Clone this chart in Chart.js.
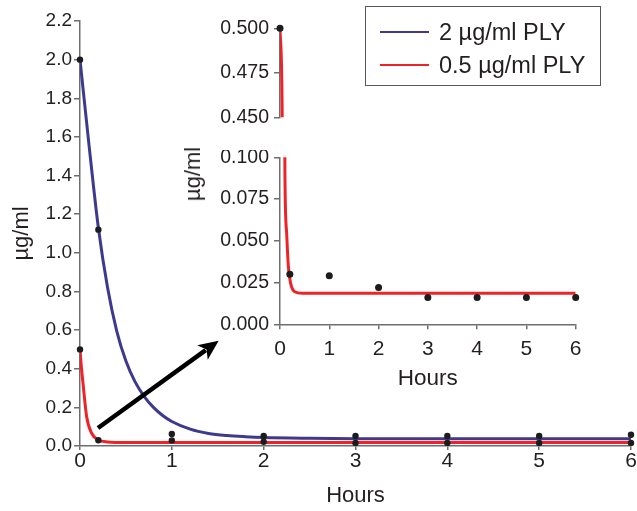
<!DOCTYPE html>
<html><head><meta charset="utf-8">
<script src="https://cdn.jsdelivr.net/npm/chart.js@4/dist/chart.umd.min.js"></script>
<style>
html,body{margin:0;padding:0;background:#fff;}
#wrap{position:relative;width:637px;height:511px;overflow:hidden;font-family:"Liberation Sans",Arial,sans-serif;color:#231f20;}
canvas{position:absolute;}
#insetTitle{position:absolute;left:193px;top:174px;transform:translate(-50%,-50%) rotate(-90deg);font-size:22px;white-space:nowrap;line-height:1;}
#legend{position:absolute;left:365px;top:6px;width:236px;height:80px;border:1px solid #58595b;box-sizing:border-box;}
.lrow{position:absolute;left:0;height:30px;display:flex;align-items:center;font-size:23.5px;white-space:nowrap;}
.lline{width:49px;height:2px;margin-left:14px;margin-right:10px;}
</style></head><body>
<div id="wrap">
<canvas id="main" width="637" height="511" style="left:0;top:0;width:637px;height:511px"></canvas>
<canvas id="insetTop" width="450" height="140" style="left:150px;top:0;width:450px;height:140px"></canvas>
<canvas id="insetBot" width="450" height="250" style="left:150px;top:150px;width:450px;height:250px"></canvas>
<div id="insetTitle">µg/ml</div>
<div id="legend">
  <div class="lrow" style="top:10px"><div class="lline" id="sw1"></div><span id="lt1"></span></div>
  <div class="lrow" style="top:43px"><div class="lline" id="sw2"></div><span id="lt2"></span></div>
</div>
</div>
<script>
// ---- data ----
const seriesNames = ['2 µg/ml PLY', '0.5 µg/ml PLY'];
const hourTicks = [0, 1, 2, 3, 4, 5, 6];
const mainYTicks = [0, 0.2, 0.4, 0.6, 0.8, 1.0, 1.2, 1.4, 1.6, 1.8, 2.0, 2.2];
const insetUpperTicks = [0.45, 0.475, 0.5];
const insetLowerTicks = [0, 0.025, 0.05, 0.075, 0.1];

const highTimes = [0, 0.2, 1, 2, 3, 4, 5, 6];
const highMeasured = [2.0, 1.12, 0.062, 0.052, 0.052, 0.052, 0.052, 0.058];
const lowTimes = [0, 0.2, 1, 2, 3, 4, 5, 6];
const lowMeasured = [0.5, 0.03, 0.029, 0.022, 0.016, 0.016, 0.016, 0.016];

const highFitTimes = [0, 0.1, 0.2, 0.3, 0.4, 0.5, 0.6, 0.7, 0.8, 0.9, 1.0, 1.2, 1.4, 1.6, 1.8, 2, 2.5, 3, 4, 5, 6];
const highFitValues = [2.0, 1.55, 1.13, 0.82, 0.595, 0.44, 0.332, 0.256, 0.2, 0.158, 0.127, 0.087, 0.065, 0.054, 0.048, 0.044, 0.040, 0.038, 0.037, 0.037, 0.037];
const lowFitTimes = [0, 0.011, 0.036, 0.073, 0.127, 0.2, 0.3, 0.5, 1, 2, 3, 4, 5, 6];
const lowFitValues = [0.5, 0.43, 0.31, 0.15, 0.066, 0.031, 0.021, 0.018, 0.018, 0.018, 0.018, 0.018, 0.018, 0.018];

const insetFitTimes = [0, 0.045, 0.1, 0.135, 0.17, 0.216, 0.3, 0.45, 1, 2, 3, 4, 5, 6];
const insetFitValues = [0.5, 0.45, 0.09, 0.0545, 0.0345, 0.0245, 0.0195, 0.0186, 0.0186, 0.0186, 0.0186, 0.0186, 0.0186, 0.0186];

const arrowStart = [0.196, 0.093];
const arrowEnd = [1.51, 0.545];

// ---- styles ----
const BLUE = '#3d3a8e', RED = '#ee2328', DOT = '#1c1c1c', AXIS = '#6d6e71', TXT = '#231f20';
const FONT = "'Liberation Sans', Arial, sans-serif";
Chart.defaults.font.family = FONT;
Chart.defaults.color = TXT;

document.getElementById('sw1').style.background = BLUE;
document.getElementById('sw2').style.background = RED;
document.getElementById('lt1').textContent = seriesNames[0];
document.getElementById('lt2').textContent = seriesNames[1];

const pts = (xs, ys) => xs.map((x, i) => ({x, y: ys[i]}));
const setTicks = arr => s => { s.ticks = arr.map(v => ({value: v})); };

function dotSet(data, r) {
  return {data, showLine: false, pointRadius: r, pointHoverRadius: r, pointBackgroundColor: DOT, pointBorderWidth: 0, clip: 6};
}
function lineSet(data, color) {
  return {data, showLine: true, borderColor: color, borderWidth: 3, pointRadius: 0, cubicInterpolationMode: 'monotone', fill: false};
}
function axisBase(tickLen) {
  return {
    border: {color: AXIS, width: 1.5},
    grid: {drawOnChartArea: false, drawTicks: true, tickLength: tickLen, color: AXIS, lineWidth: 1.5}
  };
}

const arrowPlugin = {
  id: 'arrow',
  afterDatasetsDraw(chart) {
    const {ctx, scales: {x, y}} = chart;
    const x1 = x.getPixelForValue(arrowStart[0]), y1 = y.getPixelForValue(arrowStart[1]);
    const x2 = x.getPixelForValue(arrowEnd[0]), y2 = y.getPixelForValue(arrowEnd[1]);
    const ang = Math.atan2(y2 - y1, x2 - x1);
    const hl = 20, hw = 9;
    const bx = x2 - hl * Math.cos(ang), by = y2 - hl * Math.sin(ang);
    ctx.save();
    ctx.strokeStyle = '#000'; ctx.fillStyle = '#000'; ctx.lineWidth = 4.5;
    ctx.beginPath(); ctx.moveTo(x1, y1); ctx.lineTo(bx + 4 * Math.cos(ang), by + 4 * Math.sin(ang)); ctx.stroke();
    ctx.beginPath();
    ctx.moveTo(x2, y2);
    ctx.lineTo(bx + hw * Math.sin(ang), by - hw * Math.cos(ang));
    ctx.lineTo(bx + 5 * Math.cos(ang), by + 5 * Math.sin(ang));
    ctx.lineTo(bx - hw * Math.sin(ang), by + hw * Math.cos(ang));
    ctx.closePath(); ctx.fill();
    ctx.restore();
  }
};

// ---- main chart ----
new Chart(document.getElementById('main'), {
  type: 'scatter',
  data: {datasets: [
    dotSet(pts(highTimes, highMeasured), 3.2),
    dotSet(pts(lowTimes, lowMeasured), 3.2),
    lineSet(pts(highFitTimes, highFitValues), BLUE),
    lineSet(pts(lowFitTimes, lowFitValues), RED)
  ]},
  options: {
    responsive: false, animation: false,
    layout: {padding: {left: 0, top: 21, right: 6, bottom: 0}},
    plugins: {legend: {display: false}, tooltip: {enabled: false}},
    scales: {
      x: Object.assign(axisBase(4), {
        type: 'linear', min: 0, max: 6,
        afterBuildTicks: setTicks(hourTicks),
        afterFit(s) { s.height = 65; s.paddingLeft = 0; s.paddingRight = 0; },
        ticks: {font: {size: 21}, color: TXT, padding: -1, maxRotation: 0, autoSkip: false},
        title: {display: true, text: 'Hours', font: {size: 22}, color: TXT, padding: {top: 0, bottom: 2}}
      }),
      y: Object.assign(axisBase(6), {
        type: 'linear', min: 0, max: 2.2,
        afterBuildTicks: setTicks(mainYTicks),
        afterFit(s) { s.width = 80; s.paddingTop = 0; s.paddingBottom = 0; },
        ticks: {font: {size: 19}, color: TXT, padding: 2, autoSkip: false, callback: v => Number(v).toFixed(1)},
        title: {display: true, text: 'µg/ml', font: {size: 22}, color: TXT, padding: {top: 9, bottom: 0}}
      })
    }
  },
  plugins: [arrowPlugin]
});

// ---- inset upper ----
const upperDots = pts(lowTimes, lowMeasured).filter(p => p.y >= insetUpperTicks[0]);
const lowerDots = pts(lowTimes, lowMeasured).filter(p => p.y <= insetLowerTicks[insetLowerTicks.length - 1]);

new Chart(document.getElementById('insetTop'), {
  type: 'scatter',
  data: {datasets: [
    dotSet(upperDots, 3.5),
    lineSet(pts(insetFitTimes, insetFitValues), RED)
  ]},
  options: {
    responsive: false, animation: false,
    layout: {padding: {left: 0, top: 28.3, right: 24.3, bottom: 22.7}},
    plugins: {legend: {display: false}, tooltip: {enabled: false}},
    scales: {
      x: {type: 'linear', min: 0, max: 6, display: false},
      y: Object.assign(axisBase(6), {
        type: 'linear', min: insetUpperTicks[0], max: insetUpperTicks[insetUpperTicks.length - 1],
        afterBuildTicks: setTicks(insetUpperTicks),
        afterFit(s) { s.width = 130; s.paddingTop = 0; s.paddingBottom = 0; },
        ticks: {font: {size: 19.5}, color: TXT, padding: 5, autoSkip: false, callback: v => Number(v).toFixed(3)}
      })
    }
  }
});

// ---- inset lower ----
new Chart(document.getElementById('insetBot'), {
  type: 'scatter',
  data: {datasets: [
    dotSet(lowerDots, 3.5),
    lineSet(pts(insetFitTimes, insetFitValues), RED)
  ]},
  options: {
    responsive: false, animation: false,
    layout: {padding: {left: 0, top: 7.3, right: 24.3, bottom: 0}},
    plugins: {legend: {display: false}, tooltip: {enabled: false}},
    scales: {
      x: Object.assign(axisBase(5), {
        type: 'linear', min: 0, max: 6,
        afterBuildTicks: setTicks(hourTicks),
        afterFit(s) { s.height = 75.7; s.paddingLeft = 0; s.paddingRight = 0; },
        ticks: {font: {size: 21}, color: TXT, padding: 7, maxRotation: 0, autoSkip: false},
        title: {display: true, text: 'Hours', font: {size: 22.5}, color: TXT, padding: {top: 0, bottom: 8}}
      }),
      y: Object.assign(axisBase(6), {
        type: 'linear', min: 0, max: 0.1,
        afterBuildTicks: setTicks(insetLowerTicks),
        afterFit(s) { s.width = 130; s.paddingTop = 0; s.paddingBottom = 0; },
        ticks: {font: {size: 19.5}, color: TXT, padding: 5, autoSkip: false, callback: v => Number(v).toFixed(3)}
      })
    }
  }
});
</script>
</body></html>
